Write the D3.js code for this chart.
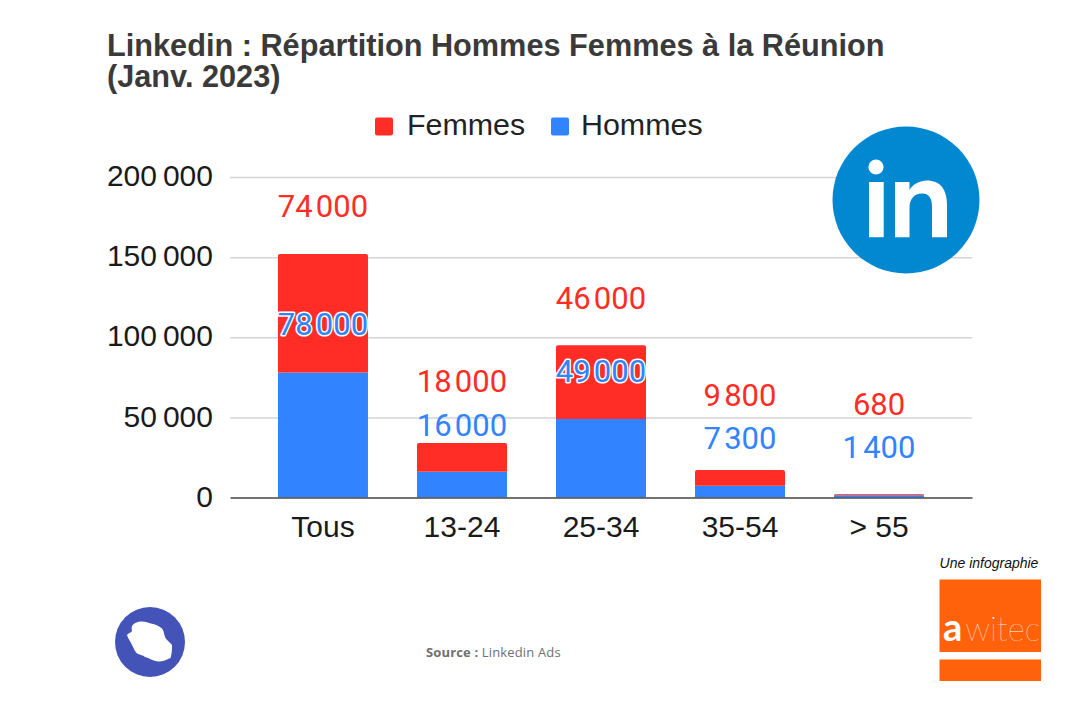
<!DOCTYPE html>
<html lang="fr">
<head>
<meta charset="utf-8">
<script src="https://cdn.jsdelivr.net/npm/d3@7/dist/d3.min.js"></script>
<style>
  html, body { margin: 0; padding: 0; background: #fff; }
  svg { display: block; }
</style>
</head>
<body>
<svg id="chart" width="1080" height="720"></svg>
<script>
const categories = ["Tous", "13-24", "25-34", "35-54", "> 55"];
const hommes = [78000, 16000, 49000, 7300, 1400];
const femmes = [74000, 18000, 46000, 9800, 680];
const yTicks = [0, 50000, 100000, 150000, 200000];
const seriesNames = ["Femmes", "Hommes"];
const titleLines = ["Linkedin : Répartition Hommes Femmes à la Réunion", "(Janv. 2023)"];

// Hand-placed label baselines, in pixels relative to the top of each stack
const femmesLabelShift = [-37, -51, -36, -64, -79];
const hommesLabelShift = [81, -7, 37, -21, -36];

const RED = "#ff2d26", BLUE = "#3183ff", GRID = "#d4d4d4";
const svg = d3.select("#chart");

const x = d3.scaleBand().domain(categories).range([230, 972])
  .paddingInner(0.3525).paddingOuter(0.345);
const y = d3.scaleLinear().domain([0, 200000]).range([497.5, 177]);

// French grouping: narrow spaces between thousands
const group = (v, sep) => d3.format(",")(v).replace(/,/g, sep);
const fmtTick = v => group(v, "\u2009");
const fmtLabel = v => group(v, "\u200A");

// Title
svg.append("g").selectAll("text").data(titleLines).join("text")
  .attr("x", 107).attr("y", (d, i) => 56 + i * 31)
  .attr("font-family", "Liberation Sans").attr("font-weight", 700)
  .attr("font-size", 30.7).attr("fill", "#3a3a3a")
  .text(d => d);

// Legend
const legendX = [375, 551], legendTextX = [407, 581];
const legend = svg.append("g");
legend.selectAll("rect").data(seriesNames).join("rect")
  .attr("x", (d, i) => legendX[i]).attr("y", 117.5)
  .attr("width", 18).attr("height", 18).attr("rx", 2)
  .attr("fill", (d, i) => i ? BLUE : RED);
legend.selectAll("text").data(seriesNames).join("text")
  .attr("x", (d, i) => legendTextX[i]).attr("y", 135)
  .attr("font-family", "Liberation Sans").attr("font-size", 30.4)
  .attr("fill", "#222").text(d => d);

// Value axis with gridlines
const yAxis = svg.append("g").attr("transform", "translate(230,0)")
  .call(d3.axisLeft(y).tickValues(yTicks).tickSize(0).tickPadding(17).tickFormat(fmtTick));
yAxis.select(".domain").remove();
yAxis.selectAll("text").attr("font-family", "Liberation Sans")
  .attr("font-size", 30).attr("fill", "#1a1a1a").attr("dy", "8.7px");
yAxis.selectAll(".tick").filter(d => d > 0).append("line")
  .attr("x2", 742).attr("stroke", GRID).attr("stroke-width", 1.5);

// Stacked bars
const stack = d3.stack().keys(["h", "f"])(categories.map((c, i) => ({ c, h: hommes[i], f: femmes[i] })));
const bw = x.bandwidth();
svg.append("g").selectAll("rect").data(stack[0]).join("rect")
  .attr("x", d => x(d.data.c)).attr("width", bw)
  .attr("y", d => y(d[1])).attr("height", d => y(d[0]) - y(d[1]))
  .attr("fill", BLUE);
svg.append("g").selectAll("path").data(stack[1]).join("path")
  .attr("fill", RED)
  .attr("d", d => {
    const l = x(d.data.c), t = y(d[1]), b = y(d[0]);
    const r = Math.min(2, b - t);
    return `M${l},${b}V${t + r}Q${l},${t} ${l + r},${t}H${l + bw - r}Q${l + bw},${t} ${l + bw},${t + r}V${b}Z`;
  });

// Category axis
const xAxis = svg.append("g").attr("transform", "translate(0,497.5)")
  .call(d3.axisBottom(x).tickSize(0).tickPadding(18.5));
xAxis.select(".domain").attr("stroke", "#444").attr("stroke-width", 1.5);
xAxis.selectAll("text").attr("font-family", "Liberation Sans")
  .attr("font-size", 30).attr("fill", "#1a1a1a");

// Value labels; Hommes labels sitting on a bar get a white halo
const stackTop = i => y(hommes[i] + femmes[i]);
const labelStyle = sel => sel
  .attr("text-anchor", "middle").attr("font-family", "Roboto").attr("font-size", 31);
svg.append("g").selectAll("text").data(femmes).join("text")
  .call(labelStyle)
  .attr("x", (d, i) => x(categories[i]) + bw / 2)
  .attr("y", (d, i) => stackTop(i) + femmesLabelShift[i])
  .attr("fill", RED).text(fmtLabel);
svg.append("g").selectAll("text").data(hommes).join("text")
  .call(labelStyle)
  .attr("x", (d, i) => x(categories[i]) + bw / 2)
  .attr("y", (d, i) => stackTop(i) + hommesLabelShift[i])
  .attr("fill", BLUE)
  .attr("stroke", (d, i) => hommesLabelShift[i] > 0 ? "#fff" : "none")
  .attr("stroke-width", 3).attr("paint-order", "stroke").attr("stroke-linejoin", "round")
  .text(fmtLabel);

// LinkedIn badge
const badge = svg.append("g").attr("transform", "translate(906,200)");
badge.append("circle").attr("r", 73.5).attr("fill", "#0288d1");
badge.append("circle").attr("cx", -30).attr("cy", -33).attr("r", 7.6).attr("fill", "#fff");
badge.append("rect").attr("x", -37).attr("y", -18).attr("width", 14.7).attr("height", 55.2).attr("fill", "#fff");
badge.append("path").attr("fill", "#fff")
  .attr("d", "M-11,-18H3.5V-10C7,-16 14,-19.5 21,-19.5C34,-19.5 41,-11 41,5V37.2H26V7C26,-2 23,-6.5 16,-6.5C8,-6.5 3.5,-1 3.5,8V37.2H-11Z");

// Island emblem
const emblem = svg.append("g").attr("transform", "translate(150,642)");
emblem.append("circle").attr("r", 35).attr("fill", "#4353b8");
emblem.append("path").attr("fill", "#fff")
  .attr("d", "M-18,-16C-16,-19 -13,-20 -10,-20.5C-5,-21 -2,-19 1,-18.5C5,-18 9,-16 12,-13.5C14,-11 14,-8 15,-5C16,-2 20,0 22,3C22,7 22,12 20.5,16C16,18 12,20 8,19.5C3,19 -1,16 -5,15C-7,13 -10,13 -12,12C-16,9 -16,6 -18,3C-19,0 -22,-3 -23,-7C-22,-9 -19,-9 -18,-11C-18.5,-13 -18.5,-15 -18,-16Z");

// Source line
const source = svg.append("text").attr("x", 426).attr("y", 657)
  .attr("font-family", "Open Sans").attr("font-size", 13)
  .attr("letter-spacing", 0.15).attr("fill", "#707070");
source.append("tspan").attr("font-weight", 700).text("Source : ");
source.append("tspan").text("Linkedin Ads");

// Agency credit
svg.append("text").attr("x", 989).attr("y", 568).attr("text-anchor", "middle")
  .attr("font-family", "Liberation Sans").attr("font-style", "italic")
  .attr("font-size", 14).attr("fill", "#111").text("Une infographie");
svg.append("rect").attr("x", 939.5).attr("y", 579.5).attr("width", 101.5).attr("height", 72.5).attr("fill", "#ff620a");
svg.append("rect").attr("x", 939.5).attr("y", 659.5).attr("width", 101.5).attr("height", 21.5).attr("fill", "#ff620a");
const brand = svg.append("text").attr("x", 943).attr("y", 641)
  .attr("font-family", "Lato").attr("fill", "#fff");
brand.append("tspan").attr("font-weight", 700).attr("font-size", 38).text("a");
brand.append("tspan").attr("font-weight", 100).attr("font-size", 33).attr("dx", 3).text("witec");
</script>
</body>
</html>
